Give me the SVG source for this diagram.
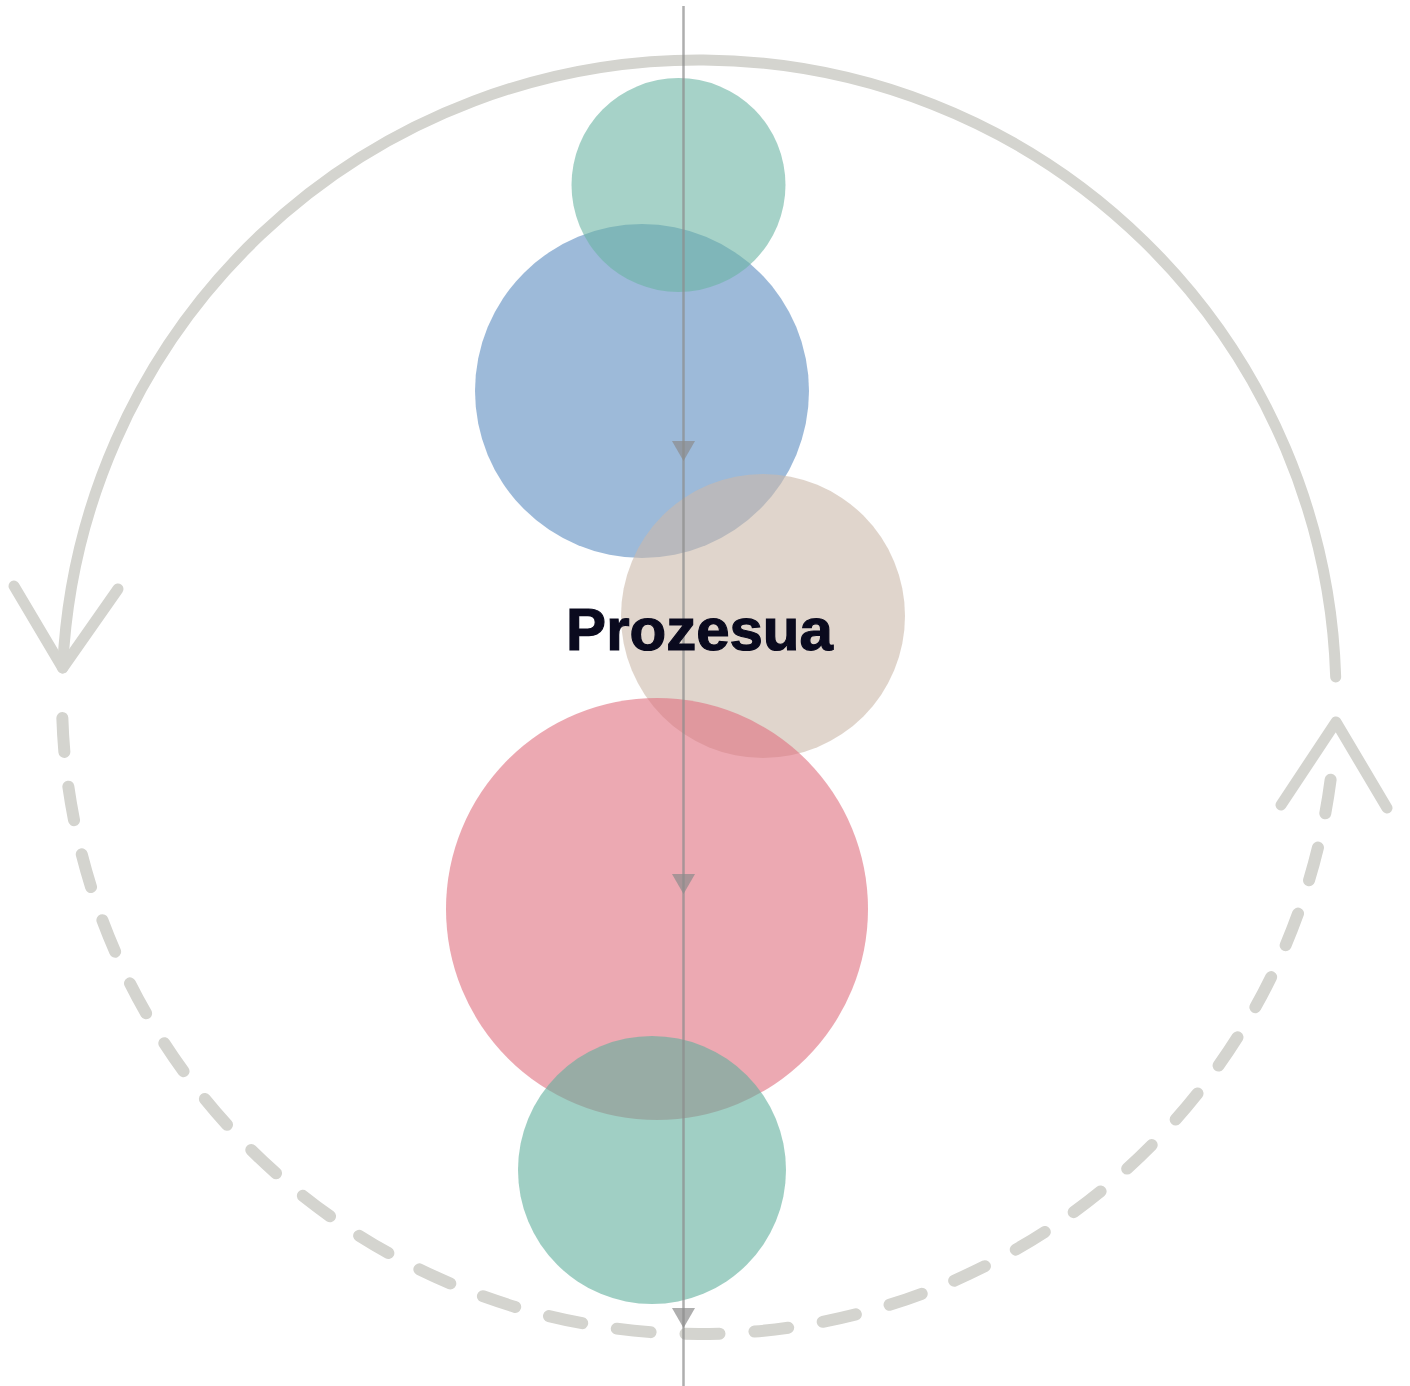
<svg xmlns="http://www.w3.org/2000/svg" width="1410" height="1386" viewBox="0 0 1410 1386">
<style>
.ring{fill:none;stroke:#d4d4cf;stroke-width:11;stroke-linecap:round;stroke-linejoin:round}
.dash{stroke-width:12;stroke-dasharray:34 35}
.node{opacity:0.6}
.flow{stroke:#8c8c8c;stroke-width:2.5;opacity:0.7}
.head{fill:#8c8c8c;opacity:0.7}
.label{font-family:"Liberation Sans",Arial,sans-serif;font-weight:bold;font-size:60px;fill:#0a0a1e;stroke:#0a0a1e;stroke-width:1.2}
</style>
<rect width="1410" height="1386" fill="#ffffff"/>
<g id="connectors">
<path class="ring" d="M1335.69 677 A637 637 0 0 0 62.66 668"/>
<polyline class="ring" points="14,586 62.66,668 118,589"/>
<path class="ring dash" d="M62.35 718 A637 637 0 0 0 1330.83 778"/>
<polyline class="ring" points="1281,805 1336,722 1387,808"/>
</g>
<g id="node-blue"><circle class="node" cx="642" cy="391" r="167" fill="#5c8cc0"/></g>
<g id="node-top"><circle class="node" cx="678.5" cy="185" r="107" fill="#6bb4a3"/></g>
<g id="node-tan"><circle class="node" cx="763" cy="616" r="142" fill="#ccb9aa"/></g>
<g id="node-pink"><circle class="node" cx="657" cy="909" r="211" fill="#df707f"/></g>
<g id="node-bottom"><circle class="node" cx="652" cy="1170" r="134" fill="#61af9d"/></g>
<g id="flow">
<line class="flow" x1="683.5" y1="6" x2="683.5" y2="1386"/>
<polygon class="head" points="672,441 695,441 683.5,461"/>
<polygon class="head" points="672,874 695,874 683.5,894"/>
<polygon class="head" points="672,1308 695,1308 683.5,1328"/>
</g>
<g id="label"><text class="label" x="699.5" y="650" text-anchor="middle">Prozesua</text></g>
</svg>
